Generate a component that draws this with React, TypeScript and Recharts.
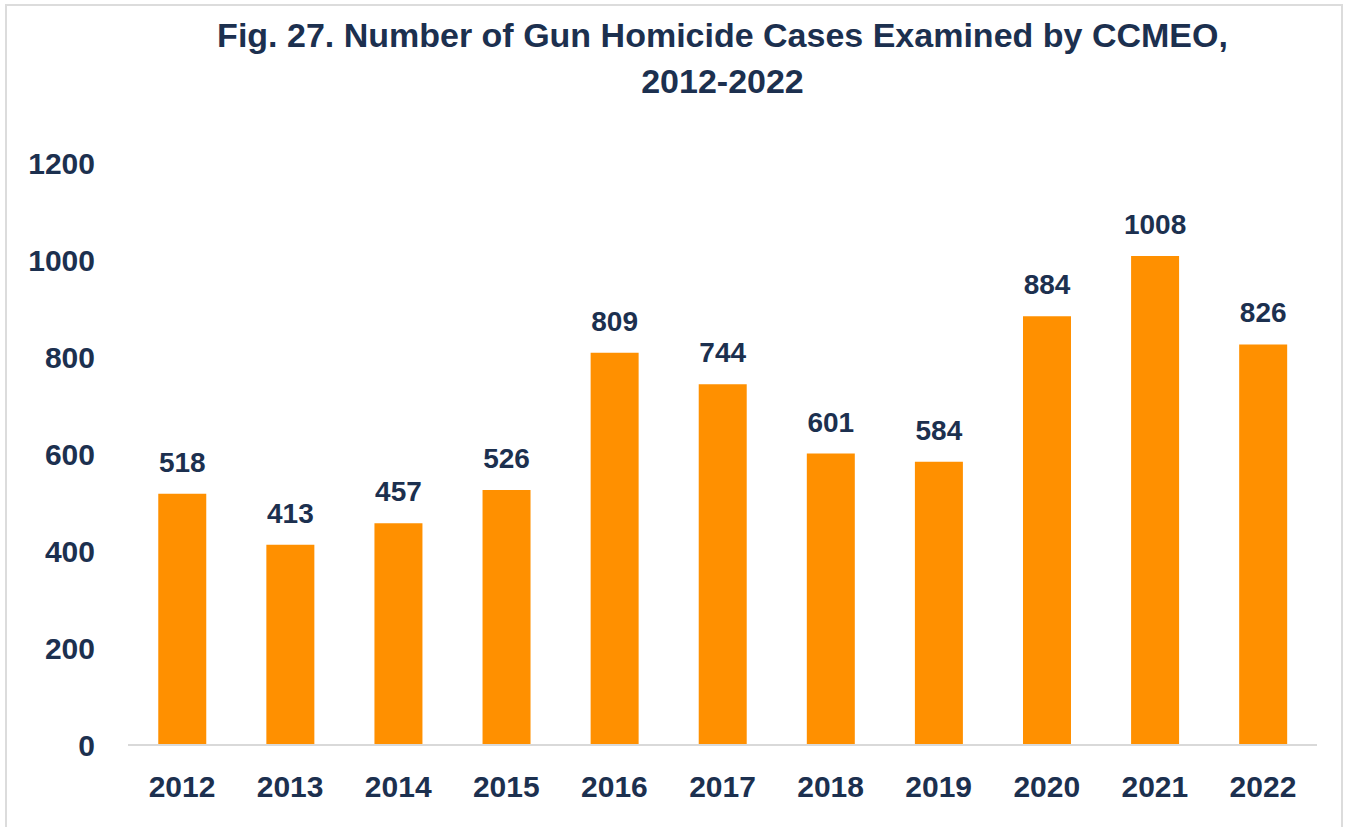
import { BarChart, Bar, XAxis, YAxis, LabelList } from 'recharts'

const YEARS = ['2012', '2013', '2014', '2015', '2016', '2017', '2018', '2019', '2020', '2021', '2022']
const CASES = [518, 413, 457, 526, 809, 744, 601, 584, 884, 1008, 826]
const Y_TICKS = [0, 200, 400, 600, 800, 1000, 1200]

const NAVY = '#1c304f'
const ORANGE = '#ff9000'
const FONT = '"Liberation Sans", Arial, sans-serif'

export default function App() {
    const data = YEARS.map((year, i) => ({ year, cases: CASES[i] }))

    return (
        <div style={{ position: 'absolute', left: 0, top: 0, width: 1351, height: 827, overflow: 'hidden', background: '#fff', fontFamily: FONT }}>
            {/* light frame round the figure */}
            <div style={{ position: 'absolute', left: 5, top: 4, width: 1338, height: 840, border: '2px solid #dcdcdc', boxSizing: 'border-box' }} />
            <div
                style={{
                    position: 'absolute',
                    left: 128,
                    width: 1189,
                    top: 12,
                    textAlign: 'center',
                    color: NAVY,
                    fontWeight: 'bold',
                    fontSize: 34,
                    lineHeight: '46px'
                }}
            >
                Fig. 27. Number of Gun Homicide Cases Examined by CCMEO,
                <br />
                2012-2022
            </div>
            <div style={{ position: 'absolute', left: 0, top: 0 }}>
                <BarChart
                    width={1351}
                    height={827}
                    data={data}
                    margin={{ top: 163, right: 34, left: 28, bottom: 0 }}
                    barCategoryGap="28%"
                >
                    <XAxis
                        dataKey="year"
                        axisLine={{ stroke: '#d9d9d9', strokeWidth: 2 }}
                        tickLine={false}
                        tickSize={0}
                        tickMargin={31}
                        height={82}
                        tick={{ fill: NAVY, fontSize: 30, fontWeight: 'bold', fontFamily: FONT }}
                    />
                    <YAxis
                        domain={[0, 1200]}
                        ticks={Y_TICKS}
                        axisLine={false}
                        tickLine={false}
                        tickSize={0}
                        tickMargin={33}
                        width={100}
                        tick={{ fill: NAVY, fontSize: 30, fontWeight: 'bold', fontFamily: FONT }}
                    />
                    <Bar dataKey="cases" fill={ORANGE} isAnimationActive={false}>
                        <LabelList
                            dataKey="cases"
                            position="top"
                            offset={22}
                            fill={NAVY}
                            fontSize={28}
                            fontWeight="bold"
                            fontFamily={FONT}
                        />
                    </Bar>
                </BarChart>
            </div>
        </div>
    )
}
